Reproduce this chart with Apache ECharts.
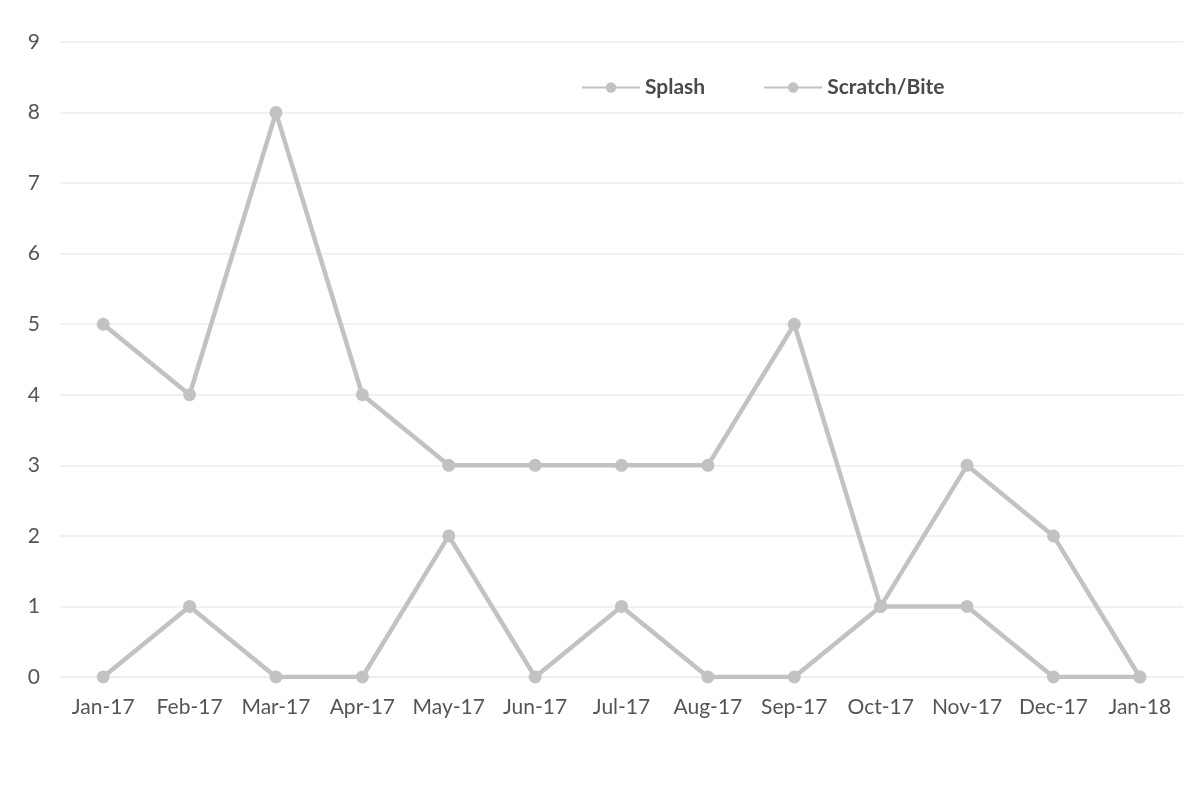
<!DOCTYPE html>
<html>
<head>
<meta charset="utf-8">
<script src="https://cdn.jsdelivr.net/npm/echarts@6/dist/echarts.min.js"></script>
<style>
  html, body { margin: 0; padding: 0; background: #ffffff; }
  #chart { width: 1200px; height: 796px; }
</style>
</head>
<body>
<div id="chart"></div>
<script>
// Monthly incident counts by type
const months = ['Jan-17', 'Feb-17', 'Mar-17', 'Apr-17', 'May-17', 'Jun-17', 'Jul-17',
                'Aug-17', 'Sep-17', 'Oct-17', 'Nov-17', 'Dec-17', 'Jan-18'];
const splash = [5, 4, 8, 4, 3, 3, 3, 3, 5, 1, 3, 2, 0];
const scratchBite = [0, 1, 0, 0, 2, 0, 1, 0, 0, 1, 1, 0, 0];
const yTicks = [0, 1, 2, 3, 4, 5, 6, 7, 8, 9];

const FONT = 'Lato, "Open Sans", sans-serif';
const LINE_GREY = '#c2c2c2';

const chart = echarts.init(document.getElementById('chart'), null, { renderer: 'canvas' });

function lineSeries(name, values) {
  return {
    name: name,
    type: 'line',
    data: values,
    symbol: 'circle',
    symbolSize: 13,
    lineStyle: { color: LINE_GREY, width: 4.5 },
    itemStyle: { color: LINE_GREY },
    emphasis: { disabled: true },
    animation: false
  };
}

chart.setOption({
  backgroundColor: '#ffffff',
  textStyle: { fontFamily: FONT },
  legend: {
    left: 576,
    top: 72,
    itemWidth: 58,
    itemHeight: 13,
    itemGap: 58,
    textStyle: { fontFamily: FONT, fontSize: 21, fontWeight: 'bold', color: '#4a4a4a' },
    data: ['Splash', 'Scratch/Bite']
  },
  grid: { left: 60, right: 17, top: 42, bottom: 119, containLabel: false },
  xAxis: {
    type: 'category',
    data: months,
    boundaryGap: true,
    axisLine: { show: true, lineStyle: { color: '#ececec', width: 1 } },
    axisTick: { show: false },
    axisLabel: { interval: 0, hideOverlap: false, fontFamily: FONT, fontSize: 21, color: '#555555', margin: 20 }
  },
  yAxis: {
    type: 'value',
    min: yTicks[0],
    max: yTicks[yTicks.length - 1],
    interval: 1,
    axisLine: { show: false },
    axisTick: { show: false },
    axisLabel: { fontFamily: FONT, fontSize: 21, color: '#555555', margin: 20 },
    splitLine: { lineStyle: { color: '#ececec', width: 1.5 } }
  },
  series: [lineSeries('Splash', splash), lineSeries('Scratch/Bite', scratchBite)]
});
</script>
</body>
</html>
